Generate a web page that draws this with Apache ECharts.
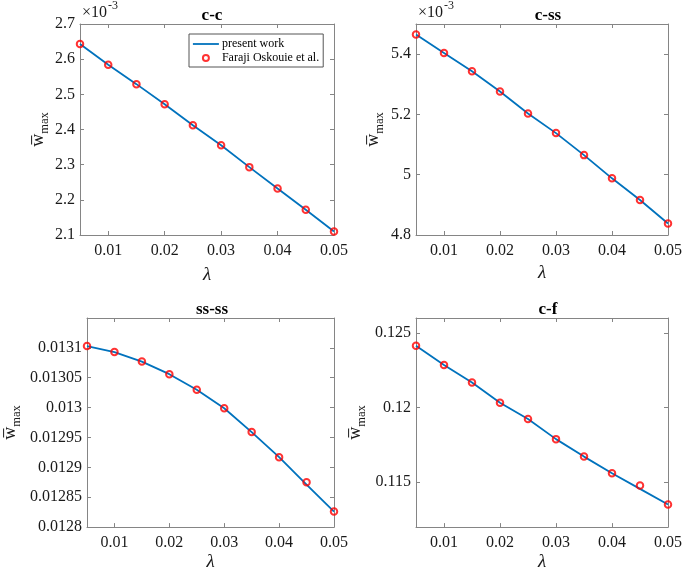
<!DOCTYPE html>
<html>
<head>
<meta charset="utf-8">
<script src="https://cdn.jsdelivr.net/npm/echarts@6/dist/echarts.min.js"></script>
<style>
html,body{margin:0;padding:0;background:#fff;}
#chart{width:685px;height:572px;}
</style>
</head>
<body>
<div id="chart"></div>
<script>
// ---- data ----
const lambda = [0.005, 0.01, 0.015, 0.02, 0.025, 0.03, 0.035, 0.04, 0.045, 0.05];
const lambdaTicks = [0.01, 0.02, 0.03, 0.04, 0.05];

const titles = ['c-c', 'c-ss', 'ss-ss', 'c-f'];
const seriesNames = ['present work', 'Faraji Oskouie et al.'];

const ccPresent   = [2.643e-3, 2.584e-3, 2.529e-3, 2.472e-3, 2.412e-3, 2.355e-3, 2.293e-3, 2.232e-3, 2.172e-3, 2.110e-3];
const ccFaraji    = [2.643e-3, 2.584e-3, 2.529e-3, 2.472e-3, 2.412e-3, 2.355e-3, 2.293e-3, 2.232e-3, 2.172e-3, 2.110e-3];
const cssPresent  = [5.465e-3, 5.404e-3, 5.343e-3, 5.276e-3, 5.203e-3, 5.138e-3, 5.065e-3, 4.988e-3, 4.916e-3, 4.838e-3];
const cssFaraji   = [5.465e-3, 5.404e-3, 5.343e-3, 5.276e-3, 5.203e-3, 5.138e-3, 5.065e-3, 4.988e-3, 4.916e-3, 4.838e-3];
const ssssPresent = [0.013103, 0.013093, 0.013077, 0.013056, 0.013030, 0.012999, 0.012959, 0.012917, 0.012871, 0.012826];
const ssssFaraji  = [0.013103, 0.013093, 0.013077, 0.013056, 0.013030, 0.012999, 0.012959, 0.012917, 0.012875, 0.012826];
const cfPresent   = [0.12414, 0.12286, 0.12168, 0.12033, 0.11924, 0.11789, 0.11672, 0.11561, 0.11456, 0.11351];
const cfFaraji    = [0.12414, 0.12286, 0.12168, 0.12033, 0.11924, 0.11789, 0.11672, 0.11561, 0.11479, 0.11351];

const ccTicks   = [0.0021, 0.0022, 0.0023, 0.0024, 0.0025, 0.0026, 0.0027];
const cssTicks  = [0.0048, 0.0050, 0.0052, 0.0054];
const ssssTicks = [0.0128, 0.01285, 0.0129, 0.01295, 0.013, 0.01305, 0.0131];
const cfTicks   = [0.115, 0.12, 0.125];

// ---- layout ----
const FONT = 'Liberation Serif';
const AXC = '#858585';
const TXC = '#1a1a1a';
const panels = [
  {left: 80,  top: 24,  present: ccPresent,   faraji: ccFaraji,   ymin: 0.0021, ymax: 0.0027,  ticks: ccTicks,   fmt: v => String(+(v * 1000).toFixed(1)), yGap: 29, xGap: 30},
  {left: 416, top: 24,  present: cssPresent,  faraji: cssFaraji,  ymin: 0.0048, ymax: 0.0055,  ticks: cssTicks,  fmt: v => String(+(v * 1000).toFixed(1)), yGap: 30, xGap: 28},
  {left: 80,  top: 318, present: ssssPresent, faraji: ssssFaraji, ymin: 0.0128, ymax: 0.01315, ticks: ssssTicks, fmt: v => String(+v.toFixed(5)), yGap: 64, xGap: 24},
  {left: 416, top: 318, present: cfPresent,   faraji: cfFaraji,   ymin: 0.112,  ymax: 0.126,   ticks: cfTicks,   fmt: v => String(+v.toFixed(3)), yGap: 48, xGap: 24}
];
const W = 254, H = 211;

const grid = [], xAxis = [], yAxis = [], series = [], title = [];
panels.forEach((p, i) => {
  grid.push({left: p.left, top: p.top, width: W, height: H, containLabel: false});
  title.push({
    text: titles[i], left: p.left + W / 2, top: p.top - 22, textAlign: 'center',
    textStyle: {fontFamily: FONT, fontWeight: 'bold', fontSize: 17, color: '#000'}
  });
  const xBase = {
    type: 'value', gridIndex: i, min: 0.005, max: 0.05,
    axisLine: {show: true, onZero: false, lineStyle: {color: AXC, width: 1}},
    axisTick: {show: true, inside: true, length: 4, lineStyle: {color: AXC}, customValues: lambdaTicks},
    splitLine: {show: false}
  };
  xAxis.push(Object.assign({}, xBase, {
    position: 'bottom',
    axisLabel: {show: true, customValues: lambdaTicks, formatter: v => String(+v.toFixed(3)),
      fontFamily: FONT, fontSize: 16, color: TXC, margin: 8},
    name: 'λ', nameLocation: 'middle', nameGap: p.xGap,
    nameTextStyle: {fontFamily: FONT, fontStyle: 'italic', fontSize: 19, color: TXC}
  }));
  xAxis.push(Object.assign({}, xBase, {position: 'top', axisLabel: {show: false}}));
  const yBase = {
    type: 'value', gridIndex: i, min: p.ymin, max: p.ymax,
    axisLine: {show: true, onZero: false, lineStyle: {color: AXC, width: 1}},
    axisTick: {show: true, inside: true, length: 4, lineStyle: {color: AXC}, customValues: p.ticks},
    splitLine: {show: false}
  };
  yAxis.push(Object.assign({}, yBase, {
    position: 'left',
    axisLabel: {show: true, customValues: p.ticks, formatter: p.fmt,
      fontFamily: FONT, fontSize: 16, color: TXC, margin: 5},
    name: '{w|w\u0305}{s|max}', nameLocation: 'middle', nameRotate: 90, nameGap: p.yGap,
    nameTextStyle: {
      fontFamily: FONT, color: TXC,
      rich: {
        w: {fontFamily: FONT, fontSize: 18, color: TXC, padding: [0, 0, 4, 0], verticalAlign: 'bottom'},
        s: {fontFamily: FONT, fontSize: 12.5, color: TXC, verticalAlign: 'bottom'}
      }
    }
  }));
  yAxis.push(Object.assign({}, yBase, {position: 'right', axisLabel: {show: false}}));

  series.push({
    name: seriesNames[0], type: 'line', xAxisIndex: 2 * i, yAxisIndex: 2 * i,
    data: lambda.map((x, k) => [x, p.present[k]]),
    symbol: 'none', showSymbol: false, lineStyle: {color: '#0072BD', width: 1.8}, itemStyle: {color: '#0072BD'},
    animation: false, z: 2
  });
  series.push({
    name: seriesNames[1], type: 'scatter', xAxisIndex: 2 * i, yAxisIndex: 2 * i,
    data: lambda.map((x, k) => [x, p.faraji[k]]),
    symbol: 'circle', symbolSize: 6.5,
    itemStyle: {color: 'rgba(0,0,0,0)', borderColor: '#ff0000', borderWidth: 2},
    animation: false, z: 3
  });
});

const option = {
  backgroundColor: '#fff',
  animation: false,
  title: title,
  grid: grid, xAxis: xAxis, yAxis: yAxis, series: series,
  legend: {
    left: 189, top: 34, orient: 'vertical',
    data: [
      {name: seriesNames[0], itemStyle: {color: 'rgba(0,0,0,0)', borderColor: 'rgba(0,0,0,0)', borderWidth: 0},
       lineStyle: {color: '#0072BD', width: 1.8}},
      {name: seriesNames[1]}
    ],
    itemWidth: 26, itemHeight: 6, itemGap: 2,
    padding: [4, 4, 3, 3],
    borderColor: '#555', borderWidth: 1, backgroundColor: '#fff',
    textStyle: {fontFamily: FONT, fontSize: 12, color: '#000', padding: [0, 0, 0, -2]},
    selectedMode: false
  },
  graphic: [
    {type: 'text', left: 82, top: 5, style: {text: '×10', fontFamily: FONT, fontSize: 16, fill: TXC}},
    {type: 'text', left: 108, top: 0, style: {text: '-3', fontFamily: FONT, fontSize: 12, fill: TXC}},
    {type: 'text', left: 418, top: 5, style: {text: '×10', fontFamily: FONT, fontSize: 16, fill: TXC}},
    {type: 'text', left: 444, top: 0, style: {text: '-3', fontFamily: FONT, fontSize: 12, fill: TXC}}
  ]
};

const chart = echarts.init(document.getElementById('chart'), null, {renderer: 'canvas'});
chart.setOption(option);
</script>
</body>
</html>
